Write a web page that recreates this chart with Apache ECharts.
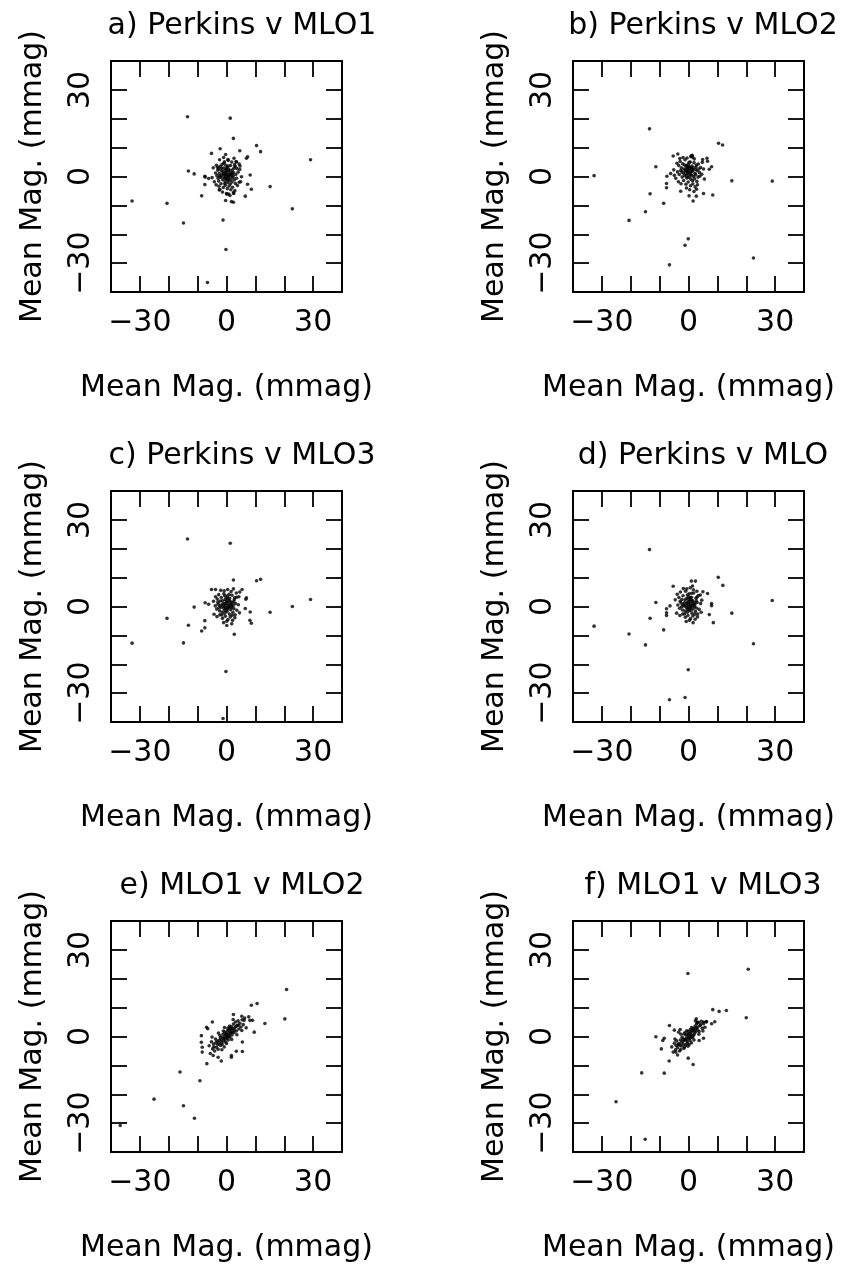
<!DOCTYPE html>
<html><head><meta charset="utf-8">
<script src="https://cdn.jsdelivr.net/npm/echarts@6/dist/echarts.min.js"></script>
<style>html,body{margin:0;padding:0;background:#fff}#c{width:855px;height:1266px}</style>
</head><body><div id="c"></div><script>
const panelTitles = ['a) Perkins v MLO1','b) Perkins v MLO2','c) Perkins v MLO3','d) Perkins v MLO','e) MLO1 v MLO2','f) MLO1 v MLO3'];
const axisTitle = 'Mean Mag. (mmag)';
const tickValues = [-30, 0, 30];
const tickLabels = ['\u221230', '0', '30'];

const panelA = [[-13.5,20.7],[1.3,20.2],[2.4,13.2],[10.4,10.7],[11.8,8.6],[29.1,5.8],[-2.2,9.6],[-5.2,8.0],[4.6,8.9],[7.3,6.8],[6.9,6.3],[-13.2,1.9],[-11.2,0.9],[-7.4,-0.2],[-7.5,0.1],[-6.2,-0.7],[-7.5,-2.8],[-8.6,-6.7],[8.2,0.5],[15.1,-3.5],[8.6,-4.4],[6.5,-6.8],[7.3,-2.7],[-0.3,-8.3],[1.7,-8.7],[2.4,-8.9],[-32.7,-8.5],[-20.6,-9.3],[22.8,-11.2],[-14.9,-16.1],[-1.2,-15.1],[-0.2,-25.3],[-6.6,-36.7],[-2.5,-4.7],[-2.3,-4.5],[0.1,-6.1],[0.8,-6.1],[2.5,-5.9],[4.4,-2.0],[5.2,-0.1],[4.7,3.6],[3.5,5.0],[-0.3,7.6],[0.5,5.9],
[-3.5,3.9],[-3.1,3.2],[-2.8,2.7],[-2.2,3.5],[-1.8,2.1],[-1.5,4.2],[-1.2,1.6],[-0.9,2.9],[-0.6,0.8],[-0.3,2.2],[0.0,1.3],[0.2,3.1],[0.5,0.4],[0.8,2.5],[1.1,1.0],[1.4,3.8],[1.7,0.2],[2.0,2.2],[2.4,1.4],[2.8,4.1],[3.2,0.7],[3.6,2.8],[-3.8,1.2],[-3.3,0.3],[-2.9,-0.6],[-2.5,1.0],[-2.0,-0.3],[-1.6,0.5],[-1.3,-1.1],[-0.9,-0.2],[-0.5,-1.6],[-0.2,0.0],[0.1,-0.8],[0.4,-2.1],[0.7,-0.4],[1.0,-1.4],[1.3,-2.6],[1.6,-0.9],[1.9,-1.9],[2.3,-0.3],[2.7,-1.2],[3.1,-2.4],[3.5,-0.6],[4.0,1.5],[-4.2,-1.8],[-3.6,-2.9],[-2.6,-3.4],[-1.9,-2.5],[-1.1,-3.8],[-0.4,-3.0],[0.3,-4.2],[0.9,-3.3],[1.5,-4.6],[2.1,-3.7],[2.9,-4.9],[3.8,-3.1],[-0.7,5.1],[0.6,5.6],[1.8,5.0],[2.6,6.3],[-2.4,5.8],[-1.0,6.6],[3.3,5.2],[4.4,4.3],[4.6,2.4],[4.9,-1.8],[-4.6,3.0],[-5.0,-0.4],[-1.4,-5.4],[0.0,-5.9],[1.2,-6.6],[2.4,-5.6],[-0.1,0.6],[0.3,1.8],[-0.8,1.3],[0.9,0.1],[-0.4,-0.6],[1.4,0.8],[-1.7,2.9],[0.6,3.6],[-2.3,0.1],[2.2,0.4],[0.0,2.6],[-0.6,-2.4],[1.1,2.0],[-1.2,0.9],[0.4,-1.2],[-0.2,3.9],[1.9,1.3],[-2.7,-1.6],[2.6,2.9],[-0.9,4.6],[3.0,3.5],[-3.0,2.2]];

const panelB = [[-13.5,16.5],[10.4,11.5],[11.8,10.9],[-32.7,0.3],[-11.3,3.4],[15.0,-1.5],[29.0,-1.6],[-13.3,-6.0],[-8.6,-9.3],[-14.9,-12.2],[-20.6,-15.2],[8.4,-6.4],[-0.1,-21.6],[-1.2,-23.8],[-6.6,-30.6],[22.5,-28.2],[-7.6,-2.4],[-7.6,-3.9],[-7.5,0.1],[-6.2,1.0],[-5.3,7.1],[-3.7,7.8],[1.3,7.3],[1.4,6.7],[4.9,5.9],[6.4,6.3],[6.6,5.3],[8.0,3.4],[7.2,2.5],[5.2,-5.9],[1.6,-8.5],[2.7,-6.8],[0.2,-6.7],[-2.7,-5.1],
[-4.0,4.6],[-3.4,3.8],[-2.9,5.2],[-2.5,3.0],[-2.0,4.4],[-1.6,2.6],[-1.2,5.8],[-0.8,3.4],[-0.4,1.9],[0.0,4.1],[0.3,2.7],[0.6,5.0],[0.9,1.5],[1.2,3.6],[1.5,2.2],[1.9,4.8],[2.2,1.1],[2.6,3.3],[3.0,2.0],[3.4,4.3],[3.8,1.4],[4.2,3.1],[-3.8,1.6],[-3.2,0.7],[-2.7,2.1],[-2.2,-0.2],[-1.8,1.2],[-1.4,0.3],[-1.0,1.8],[-0.6,-0.5],[-0.2,0.9],[0.2,-0.3],[0.5,1.2],[0.8,-0.9],[1.1,0.4],[1.4,-1.5],[1.8,0.0],[2.1,-0.8],[2.5,0.6],[2.9,-1.7],[3.3,-0.2],[3.9,0.1],[-4.4,-0.6],[-3.5,-1.8],[-2.6,-2.5],[-1.7,-1.4],[-0.9,-2.7],[-0.1,-1.9],[0.7,-3.2],[1.5,-2.6],[2.3,-3.6],[3.1,-2.9],[-0.5,6.4],[0.8,6.9],[-1.9,6.6],[2.0,6.1],[1.0,7.2],[-3.0,6.2],[4.8,4.9],[5.2,2.6],[4.6,0.8],[5.5,-0.9],[-5.1,2.3],[-4.9,0.4],[-0.7,-4.0],[0.4,-4.6],[1.9,-5.2],[2.8,-4.4],[0.1,2.3],[0.4,3.3],[-0.3,2.8],[0.9,2.9],[-0.6,3.9],[1.3,1.9],[-1.1,2.3],[0.6,0.6],[-0.2,1.5],[1.6,3.0],[-1.4,4.0],[0.2,4.9],[-0.9,0.8],[2.4,2.5],[0.0,3.2],[1.0,2.4],[-0.4,-0.1],[2.7,4.0],[-2.3,1.6],[3.6,2.6]];

const panelC = [[-13.5,23.4],[1.3,21.9],[2.4,9.2],[10.4,8.9],[11.8,9.4],[29.1,2.4],[22.8,0.0],[15.1,-2.0],[-11.2,-0.2],[-20.6,-4.1],[-7.4,1.3],[-6.2,0.8],[-5.2,5.9],[-3.8,5.9],[-7.5,-4.9],[-7.5,-7.4],[-8.6,-8.5],[-13.2,-6.5],[-32.7,-12.7],[-14.9,-12.6],[2.7,-9.6],[0.1,-6.6],[8.6,-5.8],[8.1,-4.8],[8.2,-1.9],[6.5,-0.7],[6.9,3.0],[6.7,2.5],[5.4,5.9],[4.6,5.0],[-0.2,-22.5],[-1.2,-38.8],
[-3.8,3.4],[-3.2,2.6],[-2.7,4.1],[-2.2,1.9],[-1.8,3.1],[-1.3,0.9],[-0.9,4.4],[-0.5,2.3],[-0.1,1.2],[0.3,3.6],[0.7,0.5],[1.1,2.8],[1.5,1.6],[1.9,3.9],[2.3,0.3],[2.7,2.4],[3.1,1.0],[3.5,3.2],[-3.9,0.2],[-3.4,-0.9],[-2.9,0.8],[-2.4,-1.5],[-1.9,-0.2],[-1.5,-1.9],[-1.0,-0.6],[-0.6,-2.3],[-0.2,-0.9],[0.2,-1.7],[0.6,-0.3],[1.0,-2.6],[1.4,-1.1],[1.8,-0.4],[2.2,-2.0],[2.6,-0.8],[3.0,-2.9],[3.6,-1.3],[4.1,0.6],[-4.3,-2.7],[-3.3,-3.5],[-2.3,-2.9],[-1.4,-4.1],[-0.4,-3.4],[0.5,-4.5],[1.3,-3.6],[2.1,-4.8],[2.9,-3.9],[-0.8,5.4],[0.4,5.9],[1.6,5.2],[2.4,6.1],[-2.0,5.6],[3.4,4.7],[4.3,3.4],[4.5,-2.2],[-4.5,1.8],[-1.0,-5.6],[0.1,-5.1],[1.8,-6.0],[-0.2,0.4],[0.3,1.5],[-0.7,0.9],[0.8,-0.1],[-0.3,-0.4],[1.2,0.7],[-1.4,2.0],[0.5,2.7],[-2.1,0.4],[1.9,1.1],[0.0,2.0],[-0.5,-1.3],[1.0,1.9],[-1.1,0.1],[0.4,-0.8],[-0.1,3.0],[1.6,0.2],[-2.6,-0.4],[2.5,1.7],[-0.6,3.7],[2.8,3.0],[-3.0,1.5],[0.9,4.2],[-1.6,-2.9],[2.0,-3.0]];

const panelD = [[-13.5,19.7],[10.3,10.1],[11.9,7.3],[29.0,2.1],[15.0,-2.3],[22.5,-12.9],[-32.7,-6.8],[-20.6,-9.5],[-14.9,-13.3],[-8.6,-8.1],[-13.3,-4.1],[-11.3,1.4],[-7.6,-0.8],[-7.6,-2.2],[-7.6,-3.1],[-6.4,0.2],[-5.3,7.0],[1.0,8.8],[2.4,8.8],[1.4,7.1],[5.0,5.1],[6.6,4.5],[8.0,0.3],[8.0,1.0],[7.2,-2.8],[8.6,-5.6],[-0.1,-21.9],[-6.6,-32.3],[-1.2,-31.5],
[-3.9,4.2],[-3.3,3.1],[-2.8,5.0],[-2.3,2.4],[-1.9,3.7],[-1.4,1.3],[-1.0,5.3],[-0.6,2.8],[-0.2,1.6],[0.2,4.4],[0.6,0.9],[1.0,3.2],[1.4,2.0],[1.8,4.7],[2.2,0.6],[2.6,2.9],[3.0,1.4],[3.4,3.8],[-3.7,0.5],[-3.1,-0.6],[-2.6,1.2],[-2.1,-1.2],[-1.6,0.2],[-1.2,-1.6],[-0.8,-0.3],[-0.4,-2.0],[0.0,-0.6],[0.4,-1.4],[0.8,0.0],[1.2,-2.3],[1.6,-0.8],[2.0,-0.1],[2.4,-1.7],[2.8,-0.5],[3.2,-2.6],[3.7,-1.0],[4.2,1.0],[-4.1,-2.3],[-3.0,-3.1],[-2.0,-2.6],[-1.1,-3.7],[-0.2,-3.1],[0.7,-4.2],[1.5,-3.3],[2.3,-4.4],[3.1,-3.6],[-0.6,6.1],[0.6,6.5],[1.7,5.8],[-1.8,6.2],[2.9,5.3],[4.1,4.0],[4.6,2.2],[4.4,-2.0],[-4.6,2.3],[-0.8,-5.2],[0.3,-4.8],[1.6,-5.6],[0.0,0.7],[0.5,1.8],[-0.5,1.2],[1.0,0.3],[-0.1,-0.1],[1.4,1.0],[-1.2,2.3],[0.7,3.0],[-1.9,0.7],[2.1,1.4],[0.2,2.4],[-0.3,-1.0],[1.1,2.2],[-0.9,0.4],[0.6,-0.5],[0.1,3.4],[1.8,0.5],[-2.4,-0.1],[2.7,2.0],[-0.4,4.0],[3.0,3.3],[-2.9,1.8],[1.1,4.6],[-1.4,-2.6],[2.2,-2.7],[0.9,-1.2]];

const panelE = [[20.8,16.3],[20.2,6.1],[10.6,11.4],[8.6,10.8],[13.3,4.5],[9.6,1.5],[8.1,5.6],[9.0,5.6],[-16.1,-12.3],[-9.2,-15.3],[-6.8,-9.4],[-25.1,-21.7],[-14.9,-24.0],[-11.1,-28.3],[-36.8,-30.8],[-4.9,5.0],[-6.9,3.2],[-6.5,2.7],[-8.7,0.3],[-8.7,-2.0],[-8.4,-3.7],[-8.4,-5.4],[-4.6,-6.6],[-2.9,-7.2],[-1.8,-8.5],[1.7,-6.6],[1.7,-7.2],[3.4,-5.1],[5.5,-1.9],[5.5,-5.2],[2.4,7.6],[5.3,7.0],[6.1,5.6],[7.7,6.8],
[-6.0,-3.2],[-5.6,-5.9],[-5.2,-1.8],[-4.8,-4.3],[-4.5,-2.6],[-4.1,-5.0],[-3.8,-0.9],[-3.5,-3.7],[-3.2,-1.6],[-2.9,-4.4],[-2.6,-2.3],[-2.3,0.4],[-2.0,-3.1],[-1.8,-1.0],[-1.5,-2.7],[-1.2,0.8],[-1.0,-1.5],[-0.8,-3.6],[-0.5,0.1],[-0.3,-1.9],[0.0,1.2],[0.2,-0.6],[0.4,2.1],[0.6,-1.2],[0.8,0.9],[1.0,2.8],[1.2,-0.2],[1.5,1.7],[1.7,3.4],[1.9,0.5],[2.2,2.6],[2.4,4.3],[2.6,1.3],[2.9,3.1],[3.1,5.0],[3.4,1.9],[3.7,3.8],[4.0,5.4],[4.3,2.6],[4.6,4.6],[5.0,3.3],[5.4,5.8],[5.8,4.1],[6.3,6.4],[6.8,3.0],[-1.4,-0.4],[-0.6,1.5],[0.1,0.3],[0.5,2.9],[-0.9,-0.7],[1.3,1.0],[-0.2,0.6],[0.9,2.2],[-1.7,-2.0],[0.3,-0.1],[2.0,1.5],[-2.5,-1.3],[1.6,2.7],[-0.4,-0.9],[1.1,3.6],[-3.0,-2.8],[2.7,2.2],[-1.1,1.9],[0.7,0.1],[-2.1,-0.4],[3.3,3.5],[-3.7,-2.2],[4.1,3.9],[-4.4,-3.6],[0.0,-2.4],[-1.6,-4.6],[1.8,-1.0],[-5.0,-0.2],[3.6,0.6],[-0.7,3.1],[2.3,5.9],[-2.8,1.2],[5.3,2.1]];

const panelF = [[-0.2,21.8],[20.7,23.3],[20.0,6.5],[8.4,9.3],[10.6,8.7],[13.1,9.0],[9.1,5.1],[8.0,4.4],[-11.3,-0.1],[-9.4,-4.3],[-6.7,-8.5],[-16.2,-12.6],[-8.4,-12.7],[-25.1,-22.6],[-15.0,-35.6],[1.6,-9.7],[-0.1,-7.5],[-6.6,3.8],[-4.9,2.2],[-3.4,1.5],[-2.9,2.4],[-8.9,-1.4],[-8.4,-0.6],[-4.4,-5.4],[-3.8,-6.4],[-2.7,-4.5],[2.7,6.1],[3.1,4.8],[5.2,5.0],[6.2,5.2],[3.7,-1.4],[5.2,-0.6],
[-5.8,-3.6],[-5.3,-5.4],[-4.9,-2.3],[-4.5,-4.6],[-4.1,-1.5],[-3.8,-3.9],[-3.4,-2.4],[-3.1,-5.0],[-2.8,-1.2],[-2.5,-3.3],[-2.2,-0.3],[-1.9,-2.6],[-1.6,-4.1],[-1.3,-1.0],[-1.0,-2.9],[-0.8,0.4],[-0.5,-1.7],[-0.2,-3.4],[0.0,-0.5],[0.3,1.1],[0.5,-1.4],[0.8,0.6],[1.0,-2.2],[1.3,1.9],[1.5,-0.4],[1.8,2.8],[2.0,0.9],[2.3,3.6],[2.5,1.6],[2.8,4.4],[3.1,2.3],[3.4,4.9],[3.7,1.7],[4.0,3.7],[4.4,5.3],[4.8,2.8],[5.2,4.4],[5.7,3.2],[6.2,5.0],[-1.5,0.9],[-0.7,-0.6],[0.1,0.2],[0.6,2.4],[-0.9,-1.1],[1.2,0.1],[-0.3,0.8],[0.9,1.5],[-1.8,-1.6],[0.4,-0.7],[2.1,2.0],[-2.4,-2.0],[1.7,0.4],[-0.4,-2.3],[1.1,3.1],[-3.0,-3.0],[2.6,2.9],[-1.2,1.4],[0.7,-0.2],[-2.0,-0.9],[3.2,3.3],[-3.6,-2.9],[4.2,4.1],[-4.3,-3.1],[0.2,-2.8],[-1.4,-3.6],[1.9,-1.2],[-4.7,-0.9],[3.6,0.8],[-0.6,2.0],[2.4,5.4],[-2.6,0.8],[5.0,1.9],[0.0,1.7],[1.4,2.4]];

const panels = [panelA, panelB, panelC, panelD, panelE, panelF];

const FONT = 'DejaVu Sans';
const colLeft = [111, 573];
const rowTop = [61, 491, 921];
const boxSize = 231;
const titleCenter = [242, 703];

const chart = echarts.init(document.getElementById('c'), null, {renderer: 'canvas'});
const grids = [], xAxes = [], yAxes = [], series = [], titles = [];
const fmt = v => { const k = tickValues.indexOf(v); return k >= 0 ? tickLabels[k] : ''; };
const lineStyle = {color: '#000', width: 2};
const tickStyle = {color: '#000', width: 1.8};
const textBase = {fontFamily: FONT, fontSize: 30, color: '#000'};

panels.forEach((data, i) => {
  const col = i % 2, row = Math.floor(i / 2);
  grids.push({left: colLeft[col], top: rowTop[row], width: boxSize, height: boxSize, containLabel: false});
  const common = {gridIndex: i, type: 'value', min: -40, max: 40, interval: 10,
    splitLine: {show: false},
    axisLine: {show: true, onZero: false, lineStyle: lineStyle},
    axisTick: {show: true, inside: true, length: 16, lineStyle: tickStyle}};
  xAxes.push(Object.assign({}, common, {position: 'bottom',
    axisLabel: Object.assign({formatter: fmt, margin: 16, showMinLabel: true, showMaxLabel: true, hideOverlap: false}, textBase),
    name: axisTitle, nameLocation: 'middle', nameGap: 81, nameTextStyle: textBase}));
  xAxes.push(Object.assign({}, common, {position: 'top', axisLabel: {show: false}}));
  yAxes.push(Object.assign({}, common, {position: 'left',
    axisLabel: Object.assign({formatter: fmt, margin: 15, rotate: 90, hideOverlap: false}, textBase),
    name: axisTitle, nameLocation: 'middle', nameGap: 63, nameTextStyle: textBase}));
  yAxes.push(Object.assign({}, common, {position: 'right', axisLabel: {show: false}}));
  series.push({type: 'scatter', xAxisIndex: 2 * i, yAxisIndex: 2 * i, data: data,
    symbol: 'circle', symbolSize: 3.6, itemStyle: {color: '#000'}, silent: true});
  titles.push({text: panelTitles[i], left: titleCenter[col], top: rowTop[row] - 50, textAlign: 'center', padding: 0,
    textStyle: {fontFamily: FONT, fontSize: 30, fontWeight: 'normal', color: '#000'}});
});

chart.setOption({animation: false, backgroundColor: '#fff', title: titles, grid: grids, xAxis: xAxes, yAxis: yAxes, series: series});
</script></body></html>
